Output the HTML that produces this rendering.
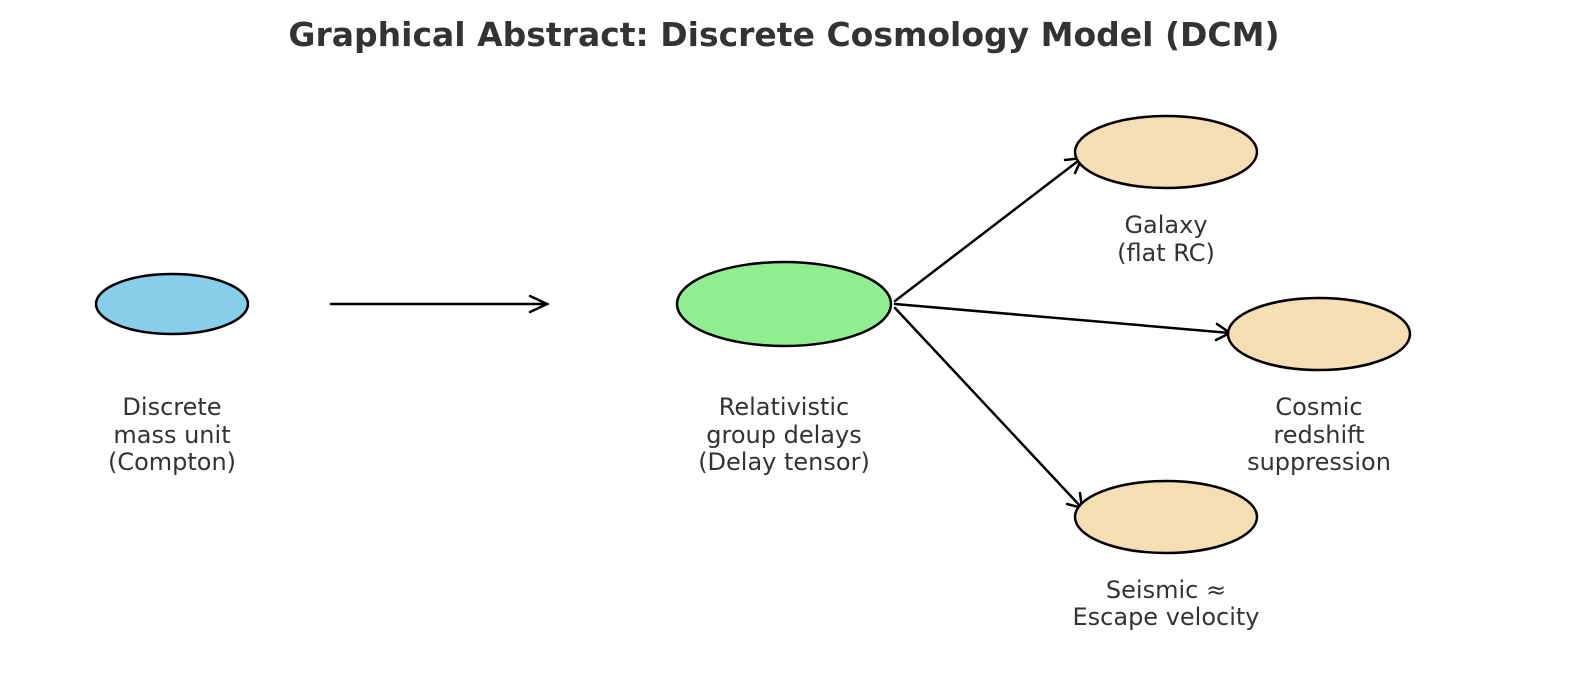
<!DOCTYPE html>
<html><head><meta charset="utf-8"><style>
html,body{margin:0;padding:0;background:#fff;}
svg{display:block;}
text{font-family:"DejaVu Sans","Liberation Sans",sans-serif;fill:#333;}
</style></head><body>
<svg width="1589" height="698" viewBox="0 0 1589 698" xmlns="http://www.w3.org/2000/svg">
<text x="784" y="46" text-anchor="middle" font-size="33" font-weight="bold">Graphical Abstract: Discrete Cosmology Model (DCM)</text>
<g stroke="#000" stroke-width="2.5" fill="none" stroke-linecap="round">
<line x1="331" y1="304" x2="547" y2="304"/>
<polyline points="530,296 547,304 530,312"/>
<line x1="895" y1="301" x2="1082" y2="158"/>
<polyline points="1065,160 1082,158 1075,173"/>
<line x1="895" y1="304" x2="1230" y2="333"/>
<polyline points="1217,324 1230,333 1216,340"/>
<line x1="895" y1="308" x2="1082" y2="508"/>
<polyline points="1080,493 1082,508 1067,504"/>
</g>
<g stroke="#000" stroke-width="2.5">
<ellipse cx="172" cy="304" rx="76" ry="30" fill="#87CEEB"/>
<ellipse cx="784" cy="304" rx="107" ry="42" fill="#90EE90"/>
<ellipse cx="1166" cy="152" rx="91" ry="36" fill="#F5DEB3"/>
<ellipse cx="1319" cy="334" rx="91" ry="36" fill="#F5DEB3"/>
<ellipse cx="1166" cy="517" rx="91" ry="36" fill="#F5DEB3"/>
</g>
<g font-size="24" text-anchor="middle">
<text x="172" y="415">Discrete</text>
<text x="172" y="443">mass unit</text>
<text x="172" y="470">(Compton)</text>
<text x="784" y="415">Relativistic</text>
<text x="784" y="443">group delays</text>
<text x="784" y="470">(Delay tensor)</text>
<text x="1166" y="233">Galaxy</text>
<text x="1166" y="261">(flat RC)</text>
<text x="1319" y="415">Cosmic</text>
<text x="1319" y="443">redshift</text>
<text x="1319" y="470">suppression</text>
<text x="1166" y="598">Seismic ≈</text>
<text x="1166" y="625">Escape velocity</text>
</g>
</svg>
</body></html>
